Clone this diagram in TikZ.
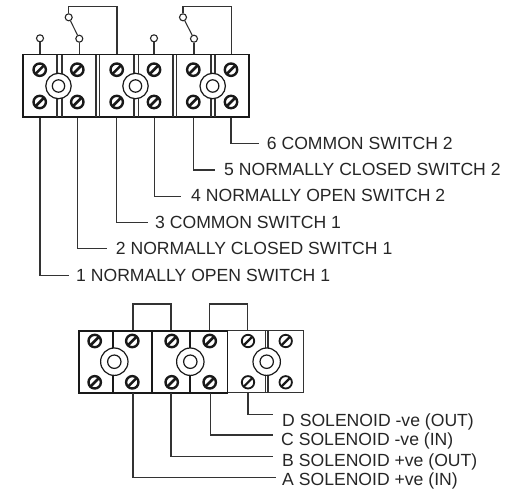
\documentclass[tikz,border=0pt]{standalone}
\usepackage{fontspec}
\setmainfont{Liberation Sans}
\tikzset{
  wire/.style={line width=1.1pt,draw=black!80},
  frame/.style={line width=1.8pt,draw=black!90},
  lightframe/.style={line width=1.2pt,draw=black!80},
  ringline/.style={line width=1.2pt,draw=black!90},
  term/.style={circle,draw=black!85,line width=1.1pt,fill=white,minimum size=7pt,inner sep=0pt},
  lab/.style={anchor=west,inner sep=0pt,text height=12.6pt,text depth=0pt,font=\fontsize{17.6}{18}\selectfont,text=black!85},
}
\newcommand{\screwhead}[2]{%
  \draw[line width=2.4pt,black!90,fill=white] (#1,#2) circle (6.2);
  \draw[line width=2.6pt,black!90] (#1-4.2,#2+4.2) -- (#1+4.2,#2-4.2);
}
\newcommand{\screwlight}[2]{%
  \draw[line width=1.8pt,black!90,fill=white] (#1,#2) circle (6.2);
  \draw[line width=2.2pt,black!90] (#1-4.2,#2+4.2) -- (#1+4.2,#2-4.2);
}
\begin{document}
\begin{tikzpicture}[x=1pt,y=-1pt]
\useasboundingbox (0,0) rectangle (519,490);
% ---- top block
\draw[frame] (22.7,54.5) rectangle (249.3,117.3);
\foreach \x in {57,62,96,99.7,134,138.5,173,176.7,211,215}
  \draw[lightframe] (\x,54.5) -- (\x,117.3);
\foreach \x in {58.5,135.5,212.7}{
  \draw[ringline,fill=white] (\x,86) circle (12.7);
  \draw[ringline,fill=white] (\x,86) circle (6.2);
}
\foreach \x in {39.7,77.3,116.7,154,193.3,231}{
  \screwhead{\x}{69.7}
  \screwhead{\x}{102}
}
% switch terminals
\coordinate (a1) at (40,54);
\coordinate (a2) at (79.3,54);
\coordinate (a3) at (117,54);
\coordinate (a4) at (154,54);
\coordinate (a5) at (194,54);
\coordinate (a6) at (231.3,54);
\node[term] (t1) at (40,38.3) {};
\node[term] (t2) at (79.3,38.7) {};
\node[term] (s1) at (68.7,17.3) {};
\node[term] (t4) at (154,38.3) {};
\node[term] (t5) at (194,38.7) {};
\node[term] (s2) at (183,17.3) {};
\draw[wire] (t1) -- (a1);
\draw[wire] (t2) -- (a2);
\draw[wire] (t4) -- (a4);
\draw[wire] (t5) -- (a5);
\draw[wire] (s1) -- (t2);
\draw[wire] (s2) -- (t5);
\draw[wire] (s1) -- (68.7,6.3) -- (117,6.3) -- (a3);
\draw[wire] (s2) -- (183,6.3) -- (231.3,6.3) -- (a6);
% labels top
\node[lab] (l1) at (76,275) {1 NORMALLY OPEN SWITCH 1};
\node[lab] (l2) at (115.7,247.7) {2 NORMALLY CLOSED SWITCH 1};
\node[lab] (l3) at (155,221.7) {3 COMMON SWITCH 1};
\node[lab] (l4) at (191,195) {4 NORMALLY OPEN SWITCH 2};
\node[lab] (l5) at (224,169) {5 NORMALLY CLOSED SWITCH 2};
\node[lab] (l6) at (266.7,142.7) {6 COMMON SWITCH 2};
\coordinate (e1) at (69,275.3);
\coordinate (e2) at (106.7,248.7);
\coordinate (e3) at (148,222.7);
\coordinate (e4) at (181,196.3);
\coordinate (e5) at (215,170);
\coordinate (e6) at (259,143.7);
\draw[wire] (40,118) |- (e1);
\draw[wire] (77.3,118) |- (e2);
\draw[wire] (116.7,118) |- (e3);
\draw[wire] (154.3,118) |- (e4);
\draw[wire] (193.7,118) |- (e5);
\draw[wire] (231,118) |- (e6);
% ---- bottom block
\draw[lightframe] (227.5,330.7) -- (303.3,330.7) -- (303.3,392.7) -- (227.5,392.7);
\draw[lightframe] (265.6,330.7) -- (265.6,392.7) (268,330.7) -- (268,392.7);
\draw[frame] (79,330.7) rectangle (227.5,392.7);
\draw[line width=2.2pt,black!90] (113.3,330.7) -- (113.3,392.7);
\draw[line width=2.2pt,black!90] (152.3,330.7) -- (152.3,392.7);
\draw[line width=2.2pt,black!90] (190,330.7) -- (190,392.7);
\foreach \x/\y in {114.3/361.7,190.3/361.7,266.7/361.7}{
  \draw[ringline,fill=white] (\x,\y) circle (13.7);
  \draw[ringline,fill=white] (\x,\y) circle (6.7);
}
\foreach \x in {94.7,132.3,171.7,209.7}{
  \screwhead{\x}{341}
  \screwhead{\x}{382.3}
}
\foreach \x in {248,285.7}{
  \screwlight{\x}{341}
  \screwlight{\x}{382.3}
}
\draw[wire] (133,330) -- (133,304) -- (171,304) -- (171,330);
\draw[wire] (209.7,330) -- (209.7,304) -- (247.7,304) -- (247.7,330);
% labels bottom
\node[lab] (d) at (282,420) {D SOLENOID -ve (OUT)};
\node[lab] (c) at (281,439.3) {C SOLENOID -ve (IN)};
\node[lab] (b) at (282,460) {B SOLENOID +ve (OUT)};
\node[lab] (a) at (282,479.3) {A SOLENOID +ve (IN)};
\coordinate (ed) at (273,414.7);
\coordinate (ec) at (273,435);
\coordinate (eb) at (273,456.7);
\coordinate (ea) at (276,477.7);
\draw[wire] (248,393) |- (ed);
\draw[wire] (210.7,393) |- (ec);
\draw[wire] (171,393) |- (eb);
\draw[wire] (133,393) |- (ea);
\end{tikzpicture}
\end{document}
